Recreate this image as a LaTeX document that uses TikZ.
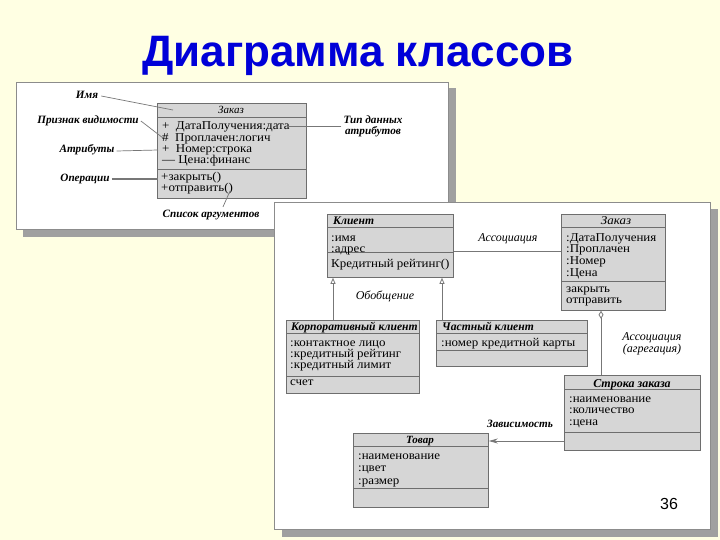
\documentclass[tikz,border=0pt]{standalone}
\usepackage{fontspec}
\setmainfont{Liberation Serif}
\newfontfamily\titlefont{Liberation Sans}
\newfontfamily\wideserif[FakeStretch=1.08]{Liberation Serif}
\usetikzlibrary{arrows.meta}
\definecolor{bgc}{HTML}{FFFFE3}
\definecolor{titleblue}{HTML}{0000D8}
\definecolor{shadowc}{HTML}{A0A0A0}
\definecolor{panelline}{HTML}{8C8C8C}
\definecolor{boxfill}{HTML}{D6D6D6}
\definecolor{boxline}{HTML}{6E6E6E}
\definecolor{connc}{HTML}{777777}
\tikzset{
  classbox/.style={draw=boxline, fill=boxfill, line width=0.8pt, inner sep=0pt, anchor=north west},
  sep/.style={draw=boxline, line width=0.8pt},
  txt/.style={font=\wideserif\fontsize{12}{12}\selectfont, inner sep=0pt, anchor=base west},
  ctitle/.style={font=\fontsize{12}{12}\selectfont\bfseries\itshape, inner sep=0pt, anchor=base},
  ltitle/.style={font=\fontsize{11.6}{12}\selectfont\bfseries\itshape, inner sep=0pt, anchor=base west},
  lbl/.style={font=\fontsize{11.2}{11}\selectfont\bfseries\itshape, inner sep=0pt, align=center},
  ilbl/.style={font=\fontsize{12}{12}\selectfont\itshape, inner sep=0pt, align=center},
  pointer/.style={draw=connc, line width=0.7pt},
  conn/.style={draw=connc, line width=0.8pt},
}
\begin{document}
\begin{tikzpicture}[x=1pt,y=-1pt]
\fill[bgc] (0,0) rectangle (720,540);
\useasboundingbox (0,0) rectangle (720,540);
% title
\node[font=\titlefont\fontsize{44}{46}\selectfont\bfseries, text=titleblue, anchor=base, inner sep=0pt] (title) at (358,67) {Диаграмма классов};
% panel 1
\fill[shadowc] (23,88) rectangle (456,237);
\draw[panelline, fill=white, line width=0.8pt] (16,82) rectangle (448,229);
% panel 2
\fill[shadowc] (282,209) rectangle (718,537);
\draw[panelline, fill=white, line width=0.8pt] (274,202) rectangle (710,529);

% ---- panel 1 class
\node[classbox, minimum width=149pt, minimum height=95pt] (z1) at (157,103) {};
\draw[sep] (z1.west |- 0,117) -- (z1.east |- 0,117);
\draw[sep] (z1.west |- 0,169) -- (z1.east |- 0,169);
\node[ctitle, font=\fontsize{11}{12}\selectfont\itshape] (z1t) at (231,114) {Заказ};
\node[txt] (z1a) at (162,130) {+\ \ ДатаПолучения:дата};
\node[txt] (z1b) at (162,142) {\#\ \ Проплачен:логич};
\node[txt] (z1c) at (162,153) {+\ \ Номер:строка};
\node[txt] (z1d) at (162,164) {— Цена:финанс};
\node[txt] (z1e) at (161,181) {+закрыть()};
\node[txt] (z1f) at (161,192) {+отправить()};
% labels
\node[lbl] (limya) at (87,95) {Имя};
\node[lbl] (lvis) at (88,121) {Признак видимости};
\node[lbl] (lattr) at (87,150) {Атрибуты};
\node[lbl] (lops) at (85,179) {Операции};
\node[lbl] (ltype) at (373,126) {Тип данных\\атрибутов};
\node[lbl] (largs) at (211,215) {Список аргументов};
\coordinate (pimya) at (173,110);
\coordinate (pvis) at (163,138);
\coordinate (pattr) at (158,150);
\coordinate (pops) at (158,179);
\coordinate (ptype) at (287,126);
\coordinate (pargs) at (230,191);
\draw[pointer] (limya.east) ++(3,1) -- (pimya);
\draw[pointer] (lvis.east) ++(2,0) -- (pvis);
\draw[pointer] (lattr.east) ++(2,1) -- (pattr);
\draw[pointer, line width=1.6pt] (lops.east) ++(2,0) -- (pops);
\draw[pointer] (ltype.west |- ptype) ++(-2,0) -- (ptype);
\draw[pointer] (largs.north) ++(12,-3) -- (pargs);

% ---- panel 2
% Клиент
\node[classbox, minimum width=126pt, minimum height=63pt] (kl) at (327,214) {};
\draw[sep] (kl.west |- 0,227) -- (kl.east |- 0,227);
\draw[sep] (kl.west |- 0,252) -- (kl.east |- 0,252);
\node[ltitle] (klt) at (333,225) {Клиент};
\node[txt] (kla) at (331,241) {:имя};
\node[txt] (klb) at (331,252) {:адрес};
\node[txt] (klc) at (331,267) {Кредитный рейтинг()};
% Заказ
\node[classbox, minimum width=104pt, minimum height=96pt] (zk) at (561,214) {};
\draw[sep] (zk.west |- 0,227) -- (zk.east |- 0,227);
\draw[sep] (zk.west |- 0,281) -- (zk.east |- 0,281);
\node[ctitle, font=\wideserif\fontsize{12}{12}\selectfont\itshape] (zkt) at (616,225) {Заказ};
\node[txt] (zka) at (566,241) {:ДатаПолучения};
\node[txt] (zkb) at (566,252) {:Проплачен};
\node[txt] (zkc) at (566,264) {:Номер};
\node[txt] (zkd) at (566,276) {:Цена};
\node[txt] (zke) at (566,292) {закрыть};
\node[txt] (zkf) at (566,303) {отправить};
% Корпоративный клиент
\node[classbox, minimum width=133pt, minimum height=73pt] (kk) at (286,320) {};
\draw[sep] (kk.west |- 0,333) -- (kk.east |- 0,333);
\draw[sep] (kk.west |- 0,376) -- (kk.east |- 0,376);
\node[ltitle] (kkt) at (291,330) {Корпоративный клиент};
\node[txt] (kka) at (290,346) {:контактное лицо};
\node[txt] (kkb) at (290,357) {:кредитный рейтинг};
\node[txt] (kkc) at (290,368) {:кредитный лимит};
\node[txt] (kkd) at (290,385) {счет};
% Частный клиент
\node[classbox, minimum width=151pt, minimum height=46pt] (ck) at (436,320) {};
\draw[sep] (ck.west |- 0,333) -- (ck.east |- 0,333);
\draw[sep] (ck.west |- 0,350) -- (ck.east |- 0,350);
\node[ltitle] (ckt) at (442,330) {Частный клиент};
\node[txt] (cka) at (441,346) {:номер кредитной карты};
% Строка заказа
\node[classbox, minimum width=136pt, minimum height=75pt] (sz) at (564,375) {};
\draw[sep] (sz.west |- 0,389) -- (sz.east |- 0,389);
\draw[sep] (sz.west |- 0,432) -- (sz.east |- 0,432);
\node[ctitle] (szt) at (632,387) {Строка заказа};
\node[txt] (sza) at (569,402) {:наименование};
\node[txt] (szb) at (569,413) {:количество};
\node[txt] (szc) at (569,425) {:цена};
% Товар
\node[classbox, minimum width=135pt, minimum height=74pt] (tv) at (353,433) {};
\draw[sep] (tv.west |- 0,446) -- (tv.east |- 0,446);
\draw[sep] (tv.west |- 0,488) -- (tv.east |- 0,488);
\node[ctitle, font=\fontsize{11}{12}\selectfont\bfseries\itshape] (tvt) at (420,443) {Товар};
\node[txt] (tva) at (358,459) {:наименование};
\node[txt] (tvb) at (358,471) {:цвет};
\node[txt] (tvc) at (358,484) {:размер};

% connectors
\draw[conn] (kl.east |- 0,251) -- (zk.west |- 0,251);
\node[ilbl] (lass) at (508,239) {Ассоциация};
\draw[conn, -{Triangle[open, length=6pt, width=5pt]}] (kk.north -| 333,0) -- (kl.south -| 333,0);
\draw[conn, -{Triangle[open, length=6pt, width=5pt]}] (ck.north -| 442,0) -- (kl.south -| 442,0);
\node[ilbl] (lgen) at (385,296) {Обобщение};
\draw[conn, -{Diamond[open, length=8pt, width=5pt]}] (sz.north -| 601,0) -- (zk.south -| 601,0);
\node[ilbl] (lagg) at (652,344) {Ассоциация\\(агрегация)};
\draw[conn, -{Stealth[length=9pt, width=5pt]}] (sz.west |- 0,441) -- (tv.east |- 0,441);
\node[lbl] (ldep) at (520,424) {Зависимость};
% page number
\node[font=\titlefont\fontsize{16}{16}\selectfont, inner sep=0pt] (pnum) at (669,504) {36};
\end{tikzpicture}
\end{document}
